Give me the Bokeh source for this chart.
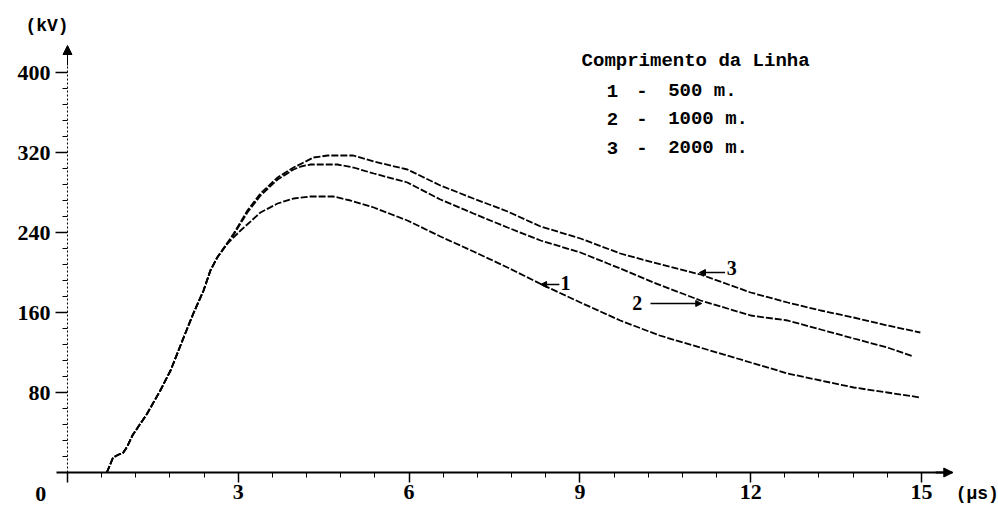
from bokeh.plotting import figure
from bokeh.models import Label, Arrow, NormalHead, FixedTicker, Range1d
from bokeh.embed import file_html
from bokeh.resources import INLINE

# ---- data (time in microseconds, voltage in kV) ----
t_500 = [0.69, 0.75, 0.80, 0.90, 0.97, 1.05, 1.14, 1.40, 1.63, 1.81, 2.04, 2.21, 2.39, 2.51, 2.63,
         2.81, 3.04, 3.39, 3.69, 3.97, 4.27, 4.67, 4.97, 5.38, 5.97, 6.55, 7.13, 7.73, 8.33,
         9.01, 9.71, 10.40, 11.17, 12.00, 12.65, 13.23, 13.81, 14.40, 14.98]
v_500 = [0, 8, 15, 18, 19, 26, 37, 59, 82, 102, 135, 159, 182, 202, 215,
         229, 242, 260, 269, 274, 276, 276, 272, 265, 252, 236, 221, 205, 188,
         170, 152, 137, 124, 110, 99, 92, 85, 80, 75]

t_1000 = [0.69, 0.75, 0.80, 0.90, 0.97, 1.05, 1.14, 1.40, 1.63, 1.81, 2.04, 2.21, 2.39, 2.51, 2.63,
          2.92, 3.16, 3.39, 3.69, 3.97, 4.10, 4.27, 4.74, 5.02, 5.38, 5.97, 6.55, 7.13, 7.73, 8.31,
          9.01, 9.49, 9.71, 10.29, 11.12, 12.00, 12.65, 13.23, 13.81, 14.40, 14.86]
v_1000 = [0, 8, 15, 18, 19, 26, 37, 59, 82, 102, 135, 159, 182, 202, 215,
          238, 260, 277, 293, 303, 306, 308, 308, 305, 299, 290, 273, 259, 245, 232,
          220, 209, 204, 190, 172, 157, 152, 143, 134, 125, 116]

t_2000 = [0.69, 0.75, 0.80, 0.90, 0.97, 1.05, 1.14, 1.40, 1.63, 1.81, 2.04, 2.21, 2.39, 2.51, 2.63,
          2.92, 3.16, 3.39, 3.69, 3.97, 4.15, 4.32, 4.57, 5.02, 5.38, 5.97, 6.55, 7.13, 7.73, 8.31,
          9.01, 9.71, 10.29, 11.12, 12.00, 12.65, 13.23, 13.81, 14.40, 14.98]
v_2000 = [0, 8, 15, 18, 19, 26, 37, 59, 82, 102, 135, 159, 182, 202, 215,
          239, 262, 279, 295, 305, 310, 315, 317, 317, 311, 303, 287, 274, 261, 246,
          234, 219, 210, 198, 180, 170, 162, 155, 147, 140]

x_ticks = [0, 3, 6, 9, 12, 15]
y_ticks = [80, 160, 240, 320, 400]
legend_title = "Comprimento da Linha"
legend_nums = ["1", "2", "3"]
legend_vals = ["500 m.", "1000 m.", "2000 m."]

X_MAX, Y_MAX = 15.55, 427   # axis arrow tips

TICK_FONT = "Liberation Serif"
MONO = "Liberation Mono"

p = figure(width=998, height=510, output_backend="svg", toolbar_location=None, title=None,
           x_range=Range1d(-1.177, 16.353), y_range=Range1d(-38, 472),
           min_border_left=0, min_border_right=0, min_border_top=0, min_border_bottom=0)
p.background_fill_color = "white"
p.border_fill_color = "white"
p.outline_line_color = None
p.grid.grid_line_color = None

# x axis, drawn through the origin
xa = p.xaxis[0]
xa.fixed_location = 0
xa.bounds = (-0.2, X_MAX)
xa.ticker = FixedTicker(ticks=x_ticks, minor_ticks=[i * 0.6 for i in range(26)])
xa.major_label_overrides = {0: ""}
xa.axis_line_width = 2
xa.axis_line_color = "black"
xa.major_tick_out = 10
xa.major_tick_in = 0
xa.minor_tick_out = 5
xa.minor_tick_in = 0
xa.major_tick_line_width = 1.5
xa.major_label_standoff = 2
xa.major_label_text_font = TICK_FONT
xa.major_label_text_font_style = "bold"
xa.major_label_text_font_size = "22px"
xa.major_label_text_color = "black"

# y axis, drawn through the origin
ya = p.yaxis[0]
ya.fixed_location = 0
ya.bounds = (0, Y_MAX)
ya.ticker = FixedTicker(ticks=y_ticks, minor_ticks=[i * 16 for i in range(1, 26)])
ya.axis_line_dash = "2 2"
ya.axis_line_color = "black"
ya.major_tick_out = 12
ya.major_tick_in = 0
ya.minor_tick_out = 5
ya.minor_tick_in = 0
ya.major_tick_line_width = 1.5
ya.major_label_standoff = 5
ya.major_label_text_font = TICK_FONT
ya.major_label_text_font_style = "bold"
ya.major_label_text_font_size = "22px"
ya.major_label_text_color = "black"

# curves
for t, v in ((t_500, v_500), (t_1000, v_1000), (t_2000, v_2000)):
    p.line(t, v, line_color="black", line_width=1.8, line_dash="7 2")

# axis arrows
p.add_layout(Arrow(end=NormalHead(size=9, fill_color="black", line_color="black"),
                   x_start=X_MAX - 0.3, y_start=0, x_end=X_MAX, y_end=0, line_width=2))
p.add_layout(Arrow(end=NormalHead(size=9, fill_color="black", line_color="black"),
                   x_start=0, y_start=Y_MAX - 20, x_end=0, y_end=Y_MAX, line_width=1))

def lab(x, y, text, font=TICK_FONT, size="20px", align="left"):
    p.add_layout(Label(x=x, y=y, text=text, text_font=font, text_font_style="bold",
                       text_font_size=size, text_color="black", text_align=align,
                       text_baseline="middle"))

# axis unit labels and origin
lab(-0.74, 447, "(kV)", font=MONO, size="18px")
lab(15.6, -21, "(\u00b5s)", font=MONO, size="18px")
lab(-0.47, -21, "0", size="22px", align="center")

# legend block
lab(9.03, 412, legend_title, font=MONO, size="19px")
for num, val, yy in zip(legend_nums, legend_vals, (382, 354, 325)):
    lab(9.47, yy, num, font=MONO, size="19px")
    lab(9.99, yy, "-", font=MONO, size="19px")
    lab(10.55, yy, val, font=MONO, size="19px")

# curve labels with arrows
head = lambda: NormalHead(size=6, fill_color="black", line_color="black")
lab(8.66, 190, "1", size="20px")
p.add_layout(Arrow(end=head(), x_start=8.64, y_start=188, x_end=8.31, y_end=188, line_width=1.5))
lab(9.92, 170, "2", size="20px")
p.add_layout(Arrow(end=head(), x_start=10.24, y_start=169, x_end=11.14, y_end=169, line_width=1.5))
lab(11.58, 205, "3", size="20px")
p.add_layout(Arrow(end=head(), x_start=11.55, y_start=200, x_end=11.1, y_end=200, line_width=1.5))

open("out.html", "w").write(file_html(p, INLINE))
